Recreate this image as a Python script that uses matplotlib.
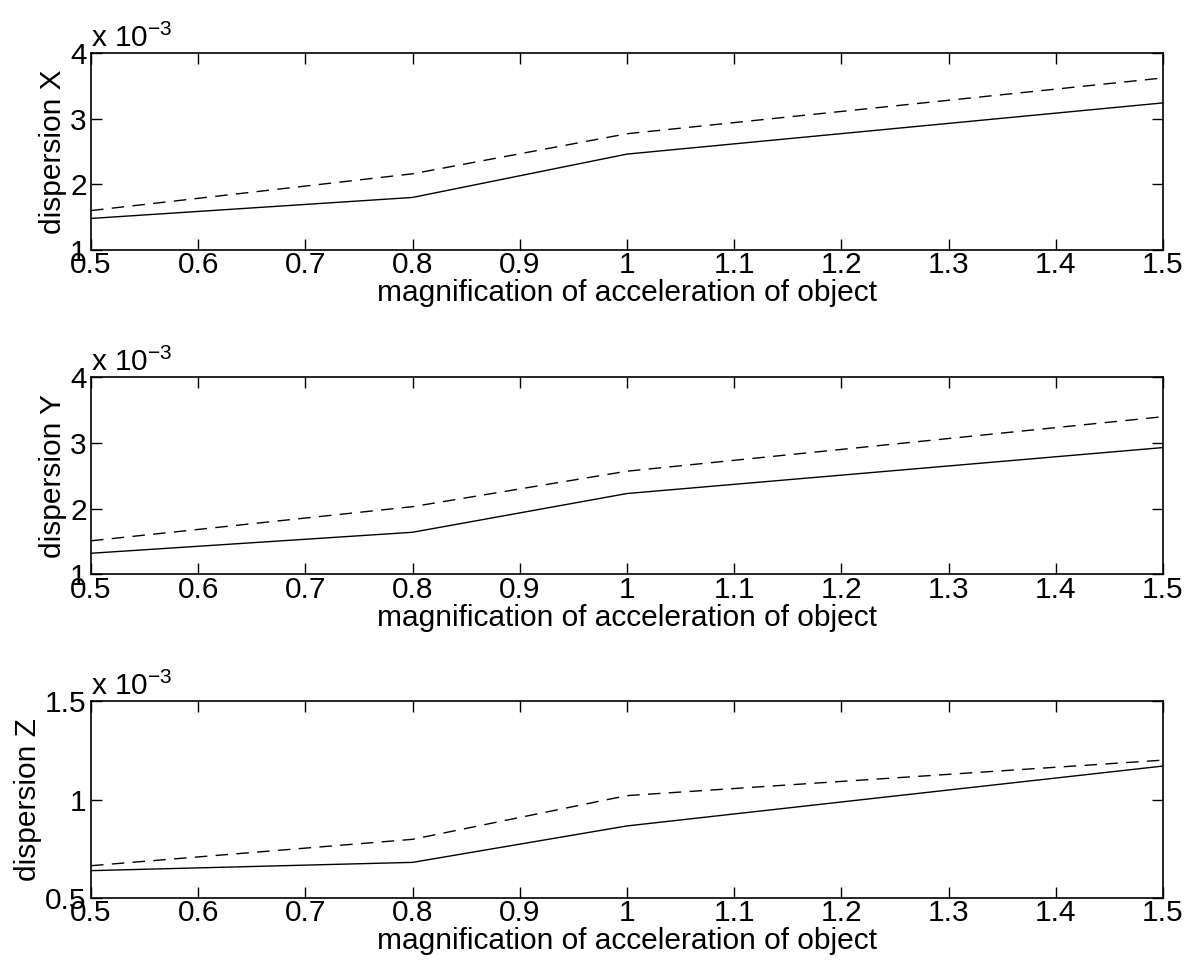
import matplotlib
matplotlib.use('Agg')
import matplotlib.pyplot as plt

plt.rcParams['font.family'] = ['Liberation Sans', 'DejaVu Sans']
plt.rcParams['font.size'] = 21.5
plt.rcParams['mathtext.fontset'] = 'custom'
plt.rcParams['mathtext.rm'] = 'Liberation Sans'

# magnification of acceleration of object
mag = [0.5, 0.8, 1.0, 1.5]

# dispersion values, in units of 1e-3
disp_x_solid = [1.48, 1.80, 2.46, 3.24]
disp_x_dash = [1.60, 2.16, 2.77, 3.62]
disp_y_solid = [1.32, 1.64, 2.23, 2.93]
disp_y_dash = [1.51, 2.03, 2.57, 3.40]
disp_z_solid = [0.639, 0.681, 0.866, 1.17]
disp_z_dash = [0.664, 0.798, 1.02, 1.20]

xticks = [0.5, 0.6, 0.7, 0.8, 0.9, 1, 1.1, 1.2, 1.3, 1.4, 1.5]
xticklabels = ['0.5', '0.6', '0.7', '0.8', '0.9', '1', '1.1', '1.2', '1.3', '1.4', '1.5']

panels = [
    ('dispersion X', disp_x_solid, disp_x_dash, (1, 4), [1, 2, 3, 4], ['1', '2', '3', '4']),
    ('dispersion Y', disp_y_solid, disp_y_dash, (1, 4), [1, 2, 3, 4], ['1', '2', '3', '4']),
    ('dispersion Z', disp_z_solid, disp_z_dash, (0.5, 1.5), [0.5, 1, 1.5], ['0.5', '1', '1.5']),
]

fig = plt.figure(figsize=(11.96, 9.76), dpi=100)
left, width, height = 0.0761, 0.8963, 0.2018
bottoms = [0.7439, 0.4116, 0.0799]

for (ylab, ys, yd, ylim, yt, ytl), b in zip(panels, bottoms):
    ax = fig.add_axes([left, b, width, height])
    ax.plot(mag, ys, color='black', lw=1.0)
    ax.plot(mag, yd, color='black', lw=1.0, linestyle=(0, (9, 6)))
    ax.set_xlim(0.5, 1.5)
    ax.set_ylim(*ylim)
    ax.set_xticks(xticks)
    ax.set_xticklabels(xticklabels)
    ax.set_yticks(yt)
    ax.set_yticklabels(ytl)
    ax.tick_params(direction='in', length=8, width=1, top=True, right=True)
    ax.tick_params(axis='x', pad=1)
    ax.tick_params(axis='y', pad=3)
    for s in ax.spines.values():
        s.set_linewidth(1.2)
    ax.set_xlabel('magnification of acceleration of object', labelpad=0)
    ax.set_ylabel(ylab, labelpad=2)
    ax.text(0.0, 1.0, r'x 10$^{\mathrm{-3}}$', transform=ax.transAxes, ha='left', va='bottom')

fig.savefig('out.png', dpi=100, facecolor='white')
